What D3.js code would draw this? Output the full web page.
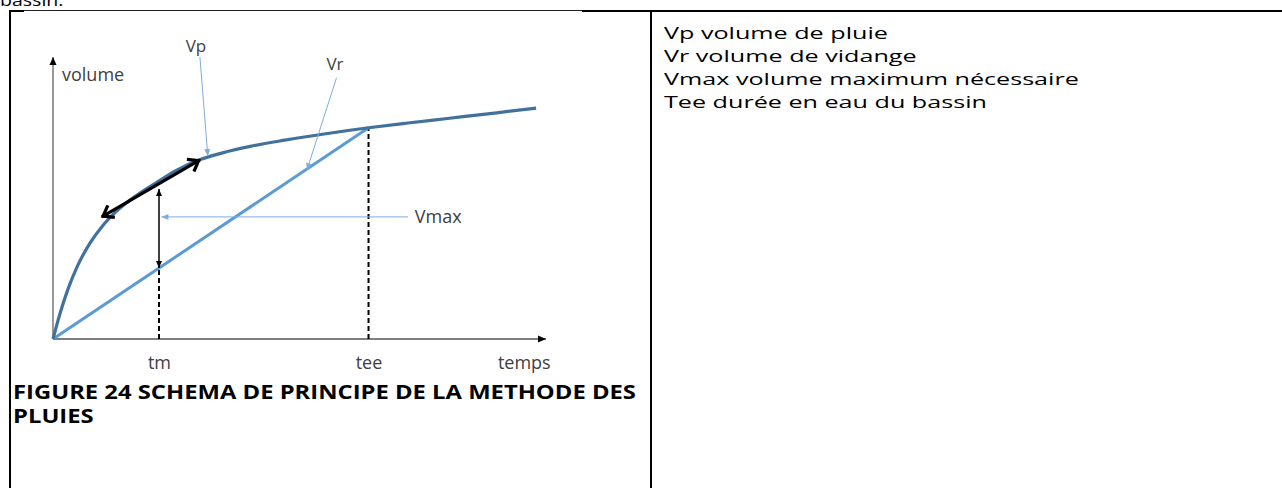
<!DOCTYPE html>
<html>
<head>
<meta charset="utf-8">
<script src="https://cdn.jsdelivr.net/npm/d3@7"></script>
<style>
  body { margin: 0; background: #fff; }
  svg { display: block; }
</style>
</head>
<body>
<svg id="chart"></svg>
<script>
// Vp curve (rain volume), time / volume in % of the axes
const vpTime   = [0, 1.5, 3, 5, 7.5, 10, 13, 17, 21, 25, 30, 35, 40, 47, 55, 64, 72, 80, 90, 98];
const vpVolume = [0, 9.5, 17.5, 26, 34, 40, 45.5, 51, 55.5, 59.8, 63.7, 66.3, 68.3, 70.5, 72.7, 74.9, 76.6, 78.2, 80.2, 81.9];

// Vr line (emptying volume)
const vrTime   = [0, 64];
const vrVolume = [0, 74.9];

// time marks on the x axis
const tickLabels = ["tm", "tee", "temps"];
const tickTimes  = [21.5, 64, 95.5];

// Vmax span at tm, and the black double arrow along the curve
const vmaxVolume = [25.2, 53.2];
const tangentTime   = [9.9, 29.8];
const tangentVolume = [43.3, 63.5];

// labels with their leader lines [time, volume]
const labelNames  = ["Vp", "Vr", "Vmax"];
const labelAt     = [[29, 101.8], [57.2, 95.4], [73.4, 41.1]];
const leaderFrom  = [[29.8, 100], [57.5, 92.6], [72, 43.3]];
const leaderTo    = [[31.4, 64.9], [51.5, 59.9], [22, 43.3]];

const legendLines = [
  "Vp volume de pluie",
  "Vr volume de vidange",
  "Vmax volume maximum nécessaire",
  "Tee durée en eau du bassin"
];
const captionLines = ["FIGURE 24 SCHEMA DE PRINCIPE DE LA METHODE DES", "PLUIES"];

const width = 1282, height = 488;

const svg = d3.select("#chart")
  .attr("width", width)
  .attr("height", height)
  .style("font-family", "'Open Sans', sans-serif");

svg.append("rect").attr("width", width).attr("height", height).attr("fill", "#fff");

// the source is a bit wider than Open Sans, so text groups are stretched to fit
function stretch(g, x0, target) {
  let w = g.select("text").node().getComputedTextLength();
  let s = target / w;
  g.attr("transform", `translate(${x0},0) scale(${s},1) translate(${-x0},0)`);
}

// markers
const defs = svg.append("defs");
function marker(id, d, color, fill, sw) {
  defs.append("marker")
    .attr("id", id)
    .attr("markerUnits", "userSpaceOnUse")
    .attr("viewBox", "-14 -10 16 20")
    .attr("markerWidth", 16).attr("markerHeight", 20)
    .attr("refX", 0).attr("refY", 0)
    .attr("orient", "auto-start-reverse")
    .append("path")
      .attr("d", d)
      .attr("fill", fill ? color : "none")
      .attr("stroke", fill ? "none" : color)
      .attr("stroke-width", sw || 0)
      .attr("stroke-linejoin", "miter");
}
marker("axisArrow", "M-8,-3.5L0,0L-8,3.5Z", "#000", true);
marker("smallArrow", "M-7,-3L0,0L-7,3Z", "#000", true);
marker("chevron", "M-11,-7L-1.5,0L-11,7", "#000", false, 3.2);
marker("leaderArrow", "M-7,-3L0,0L-7,3Z", "#7eaedb", true);

// page text above the table (only its bottom shows)
const pageText = svg.append("g");
pageText.append("text")
  .attr("x", 0).attr("y", 6)
  .attr("font-size", 17).attr("fill", "#000")
  .text("bassin.");
pageText.attr("transform", "scale(1.15,1)");

// table borders
const border = svg.append("g").attr("stroke", "#000");
border.append("line").attr("x1", 9).attr("x2", 24).attr("y1", 11).attr("y2", 11).attr("stroke-width", 2);
border.append("line").attr("x1", 24).attr("x2", 582).attr("y1", 10.5).attr("y2", 10.5).attr("stroke-width", 1).attr("stroke", "#222");
border.append("line").attr("x1", 582).attr("x2", width).attr("y1", 11).attr("y2", 11).attr("stroke-width", 2);
border.append("line").attr("x1", 10).attr("x2", 10).attr("y1", 10).attr("y2", height).attr("stroke-width", 2);
border.append("line").attr("x1", 651).attr("x2", 651).attr("y1", 10).attr("y2", height).attr("stroke-width", 2);

// scales
const x = d3.scaleLinear().domain([0, 100]).range([53, 546]);
const y = d3.scaleLinear().domain([0, 100]).range([339, 57]);

const chart = svg.append("g");

// dashed guides at tm and tee
chart.selectAll(".guide")
  .data([[tickTimes[0], vrVolume[1] / vrTime[1] * tickTimes[0]], [tickTimes[1], vrVolume[1]]])
  .enter().append("line")
    .attr("class", "guide")
    .attr("x1", d => x(d[0])).attr("x2", d => x(d[0]))
    .attr("y1", y(0)).attr("y2", d => y(d[1]))
    .attr("stroke", "#000").attr("stroke-width", 2)
    .attr("stroke-dasharray", "5,3");

// axes lines with arrows
chart.append("line")
  .attr("x1", x(0)).attr("x2", x(0)).attr("y1", y(0)).attr("y2", y(100))
  .attr("stroke", "#555").attr("stroke-width", 1.2)
  .attr("marker-end", "url(#axisArrow)");
chart.append("line")
  .attr("x1", x(0)).attr("x2", x(100)).attr("y1", y(0)).attr("y2", y(0))
  .attr("stroke", "#000").attr("stroke-width", 1.2)
  .attr("marker-end", "url(#axisArrow)");

// tick labels via d3 axis
const xAxis = d3.axisBottom(x)
  .tickValues(tickTimes)
  .tickSize(0)
  .tickPadding(17)
  .tickFormat((d, i) => tickLabels[i]);
const gx = chart.append("g")
  .attr("transform", `translate(0,${y(0)})`)
  .call(xAxis);
gx.select(".domain").remove();
gx.selectAll("text")
  .attr("font-family", "'Open Sans', sans-serif")
  .attr("font-size", 18)
  .attr("fill", "#404040");

chart.append("text")
  .attr("x", x(0) + 9).attr("y", y(91.5))
  .attr("font-size", 18).attr("fill", "#404040")
  .text("volume");

// Vr line
const line = d3.line().x(d => x(d[0])).y(d => y(d[1]));
chart.append("path")
  .datum(d3.zip(vrTime, vrVolume))
  .attr("d", line)
  .attr("fill", "none")
  .attr("stroke", "#5b9bd5")
  .attr("stroke-width", 3);

// Vp curve
chart.append("path")
  .datum(d3.zip(vpTime, vpVolume))
  .attr("d", line.curve(d3.curveMonotoneX))
  .attr("fill", "none")
  .attr("stroke", "#41719c")
  .attr("stroke-width", 3.2);

// Vmax double arrow
chart.append("line")
  .attr("x1", x(tickTimes[0])).attr("x2", x(tickTimes[0]))
  .attr("y1", y(vmaxVolume[0])).attr("y2", y(vmaxVolume[1]))
  .attr("stroke", "#000").attr("stroke-width", 1.5)
  .attr("marker-start", "url(#smallArrow)")
  .attr("marker-end", "url(#smallArrow)");

// black double arrow along the curve
chart.append("line")
  .attr("x1", x(tangentTime[0])).attr("x2", x(tangentTime[1]))
  .attr("y1", y(tangentVolume[0])).attr("y2", y(tangentVolume[1]))
  .attr("stroke", "#000").attr("stroke-width", 3.2)
  .attr("marker-start", "url(#chevron)")
  .attr("marker-end", "url(#chevron)");

// leaders and labels
labelNames.forEach((name, i) => {
  chart.append("line")
    .attr("x1", x(leaderFrom[i][0])).attr("y1", y(leaderFrom[i][1]))
    .attr("x2", x(leaderTo[i][0])).attr("y2", y(leaderTo[i][1]))
    .attr("stroke", "#7eaedb").attr("stroke-width", 1)
    .attr("marker-end", "url(#leaderArrow)");
  chart.append("text")
    .attr("x", x(labelAt[i][0])).attr("y", y(labelAt[i][1]))
    .attr("text-anchor", i < 2 ? "middle" : "start")
    .attr("font-size", i < 2 ? 17 : 18).attr("fill", "#404040")
    .text(name);
});

// caption
const cap = svg.append("g");
cap.selectAll(".caption")
  .data(captionLines)
  .enter().append("text")
    .attr("class", "caption")
    .attr("x", 13).attr("y", (d, i) => 399 + i * 24)
    .attr("font-size", 19.5).attr("font-weight", "bold").attr("fill", "#000")
    .text(d => d);
stretch(cap, 13, 623);

// right cell text
const legend = svg.append("g");
legend.selectAll(".legend")
  .data(legendLines)
  .enter().append("text")
    .attr("class", "legend")
    .attr("x", 664).attr("y", (d, i) => 39 + i * 23)
    .attr("font-size", 17).attr("fill", "#000")
    .text(d => d);
stretch(legend, 664, 224);
</script>
</body>
</html>
